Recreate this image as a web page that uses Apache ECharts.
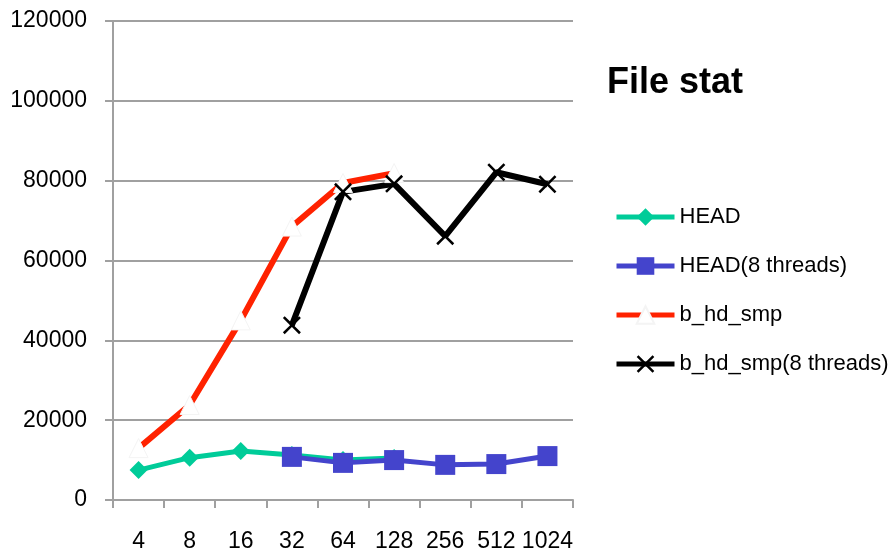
<!DOCTYPE html>
<html>
<head>
<meta charset="utf-8">
<script src="https://cdn.jsdelivr.net/npm/echarts@6/dist/echarts.min.js"></script>
<style>
  html, body { margin: 0; padding: 0; background: #fff; }
  #chart { width: 893px; height: 555px; }
</style>
</head>
<body>
<div id="chart"></div>
<script>
// Thread-count categories on the x axis
const categories = ['4', '8', '16', '32', '64', '128', '256', '512', '1024'];

// File stat throughput per series (null = not measured)
const head         = [7500, 10600, 12300, 11300, 10000, 10500, null, null, null];
const head8        = [null, null, null, 10800, 9300, 10000, 8800, 9000, 11000];
const bHdSmp       = [13000, 23800, 45000, 68500, 79400, 81900, null, null, null];
const bHdSmp8      = [null, null, null, 43800, 77200, 79200, 66100, 82100, 79100];

const yTicks = [0, 20000, 40000, 60000, 80000, 100000, 120000];

const FONT = '"Liberation Sans", Arial, sans-serif';
// filled X-shaped marker
const crossPath = 'path://M0,1 L1,0 L5,4 L9,0 L10,1 L6,5 L10,9 L9,10 L5,6 L1,10 L0,9 L4,5 Z';

const chart = echarts.init(document.getElementById('chart'), null, { renderer: 'canvas' });

chart.setOption({
  animation: false,
  backgroundColor: '#ffffff',
  title: {
    text: 'File stat',
    left: 602,
    top: 60,
    textStyle: { fontFamily: FONT, fontSize: 36, fontWeight: 'bold', color: '#000' }
  },
  legend: {
    orient: 'vertical',
    left: 609,
    top: 201,
    itemWidth: 58,
    itemHeight: 22,
    itemGap: 27,
    lineStyle: { width: 5 },
    textStyle: { fontFamily: FONT, fontSize: 22, color: '#000' },
    data: ['HEAD', 'HEAD(8 threads)', 'b_hd_smp', 'b_hd_smp(8 threads)']
  },
  grid: { left: 113, right: 320, top: 21, bottom: 55 },
  xAxis: {
    type: 'category',
    data: categories,
    boundaryGap: true,
    axisLine: { lineStyle: { color: '#a0a0a0', width: 2 } },
    axisTick: { show: true, length: 8, interval: 0, lineStyle: { color: '#a0a0a0', width: 2 } },
    axisLabel: { fontFamily: FONT, fontSize: 23, color: '#000', margin: 30, interval: 0 }
  },
  yAxis: {
    type: 'value',
    min: yTicks[0],
    max: yTicks[yTicks.length - 1],
    interval: yTicks[1] - yTicks[0],
    axisLine: { show: true, lineStyle: { color: '#a0a0a0', width: 2 } },
    axisTick: { show: true, length: 8, lineStyle: { color: '#a0a0a0', width: 2 } },
    axisLabel: { fontFamily: FONT, fontSize: 23, color: '#000', margin: 26, formatter: v => String(v) },
    splitLine: { show: true, lineStyle: { color: '#a0a0a0', width: 2 } }
  },
  series: [
    {
      name: 'HEAD',
      type: 'line',
      data: head,
      symbol: 'diamond',
      symbolSize: 18,
      lineStyle: { color: '#00cc99', width: 5 },
      itemStyle: { color: '#00cc99' }
    },
    {
      name: 'HEAD(8 threads)',
      type: 'line',
      data: head8,
      symbol: 'rect',
      symbolSize: 20,
      lineStyle: { color: '#4444cc', width: 5 },
      itemStyle: { color: '#4444cc' }
    },
    {
      name: 'b_hd_smp',
      type: 'line',
      data: bHdSmp,
      symbol: 'triangle',
      symbolSize: 19,
      lineStyle: { color: '#ff2200', width: 6 },
      itemStyle: { color: '#ffffff', borderColor: '#f4f4f4', borderWidth: 1 }
    },
    {
      name: 'b_hd_smp(8 threads)',
      type: 'line',
      data: bHdSmp8,
      symbol: crossPath,
      symbolSize: 18,
      lineStyle: { color: '#000000', width: 6 },
      itemStyle: { color: '#000000' }
    }
  ]
});
</script>
</body>
</html>
